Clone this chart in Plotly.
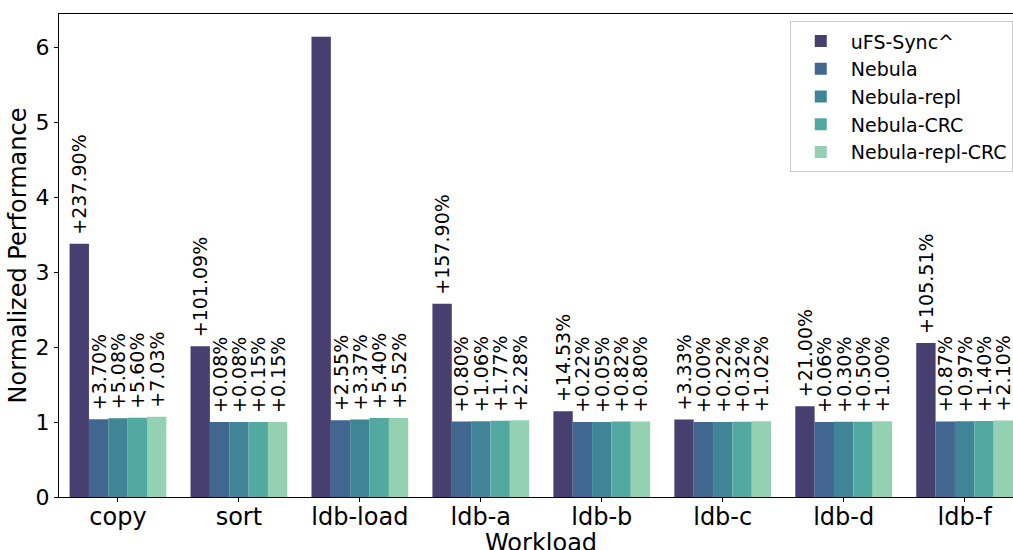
import plotly.graph_objects as go

workloads = ["copy", "sort", "ldb-load", "ldb-a", "ldb-b", "ldb-c", "ldb-d", "ldb-f"]
series_names = ["uFS-Sync^", "Nebula", "Nebula-repl", "Nebula-CRC", "Nebula-repl-CRC"]
colors = ["#463f70", "#41668f", "#3f8497", "#51a9a1", "#94d0b2"]

ufs_sync = [3.379, 2.0109, 6.14, 2.579, 1.1453, 1.0333, 1.21, 2.0551]
nebula = [1.0370, 1.0008, 1.0255, 1.0080, 1.0022, 1.0000, 1.0006, 1.0087]
nebula_repl = [1.0508, 1.0008, 1.0337, 1.0106, 1.0005, 1.0022, 1.0030, 1.0097]
nebula_crc = [1.0560, 1.0015, 1.0540, 1.0177, 1.0082, 1.0032, 1.0050, 1.0140]
nebula_repl_crc = [1.0703, 1.0015, 1.0552, 1.0228, 1.0080, 1.0102, 1.0100, 1.0210]

ufs_labels = ["+237.90%", "+101.09%", "", "+157.90%", "+14.53%", "+3.33%", "+21.00%", "+105.51%"]
nebula_labels = ["+3.70%", "+0.08%", "+2.55%", "+0.80%", "+0.22%", "+0.00%", "+0.06%", "+0.87%"]
nebula_repl_labels = ["+5.08%", "+0.08%", "+3.37%", "+1.06%", "+0.05%", "+0.22%", "+0.30%", "+0.97%"]
nebula_crc_labels = ["+5.60%", "+0.15%", "+5.40%", "+1.77%", "+0.82%", "+0.32%", "+0.50%", "+1.40%"]
nebula_repl_crc_labels = ["+7.03%", "+0.15%", "+5.52%", "+2.28%", "+0.80%", "+1.02%", "+1.00%", "+2.10%"]

values = [ufs_sync, nebula, nebula_repl, nebula_crc, nebula_repl_crc]
labels = [ufs_labels, nebula_labels, nebula_repl_labels, nebula_crc_labels, nebula_repl_crc_labels]

FONT = "DejaVu Sans"

fig = go.Figure()
for name, vals, labs, col in zip(series_names, values, labels, colors):
    fig.add_trace(go.Bar(
        name=name,
        x=list(range(len(workloads))),
        y=vals,
        marker=dict(color=col, line=dict(width=0)),
        text=[("\u00a0" + t) if t else "" for t in labs],
        textposition="outside",
        textangle=-90,
        constraintext="none",
        cliponaxis=False,
        textfont=dict(family=FONT, size=19, color="black"),
    ))

fig.update_layout(
    width=1013, height=550,
    barmode="group", bargap=0.2, bargroupgap=0,
    plot_bgcolor="white", paper_bgcolor="white",
    margin=dict(l=59, r=0, t=14, b=53, autoexpand=False),
    font=dict(family=FONT, color="black"),
    showlegend=True,
    legend=dict(
        x=0.766, y=0.985, xanchor="left", yanchor="top",
        bgcolor="rgba(255,255,255,0.8)", bordercolor="#cccccc", borderwidth=1,
        font=dict(family=FONT, size=19, color="black"),
        itemwidth=50,
    ),
    annotations=[dict(
        text="Workload", xref="paper", yref="paper", x=0.505, y=0,
        xanchor="center", yanchor="top", yshift=-30, showarrow=False,
        font=dict(family=FONT, size=24, color="black"),
    )],
)
fig.update_xaxes(
    range=[-0.4876, 7.4],
    tickmode="array",
    tickvals=list(range(len(workloads))),
    ticktext=workloads,
    tickfont=dict(family=FONT, size=24),
    showline=True, linecolor="black", linewidth=1, mirror=True,
    ticks="outside", ticklen=4, tickcolor="black",
    ticklabelstandoff=-6,
    showgrid=False, zeroline=False, automargin=False,
)
fig.update_yaxes(
    range=[0, 6.444],
    tickvals=[0, 1, 2, 3, 4, 5, 6],
    tickfont=dict(family=FONT, size=22),
    showline=True, linecolor="black", linewidth=1, mirror=False,
    ticks="outside", ticklen=4, tickcolor="black",
    showgrid=False, zeroline=False, automargin=False,
    title=dict(text="Normalized Performance", font=dict(family=FONT, size=24), standoff=2),
)

fig.write_html(
    "out.html",
    config={"displayModeBar": False},
    post_script="document.body.style.margin='0';document.body.style.overflow='hidden';",
)
